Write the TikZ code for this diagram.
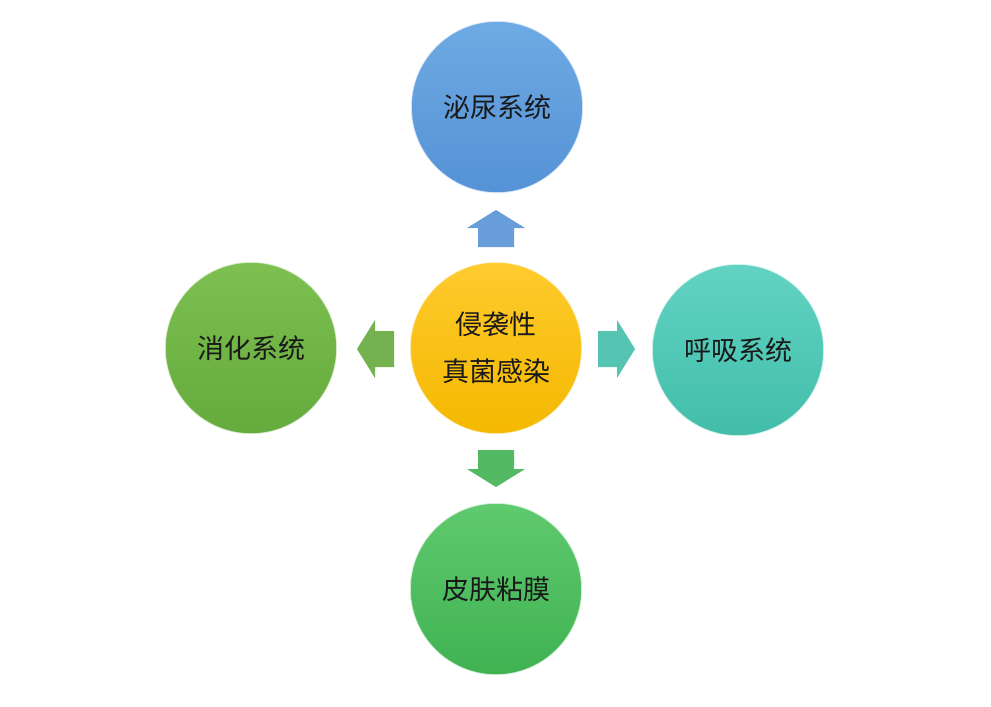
\documentclass[tikz,border=0pt]{standalone}
\usepackage{fontspec}
\newfontfamily\cjk{Noto Sans CJK SC}
\usepackage{xcolor}
\usepackage{tikz}
\definecolor{uriblue}{HTML}{5592D6}
\definecolor{uriblueL}{HTML}{6EAAE3}
\definecolor{coreyel}{HTML}{F4B800}
\definecolor{coreyelL}{HTML}{FFCB2E}
\definecolor{digest}{HTML}{64AA3C}
\definecolor{digestL}{HTML}{7EC052}
\definecolor{breath}{HTML}{42BDAA}
\definecolor{breathL}{HTML}{62D3C2}
\definecolor{skin}{HTML}{40B252}
\definecolor{skinL}{HTML}{5FCA6E}
\tikzstyle{centered} = [align=center, text centered, font=\cjk\fontsize{27}{47}\selectfont]
\tikzstyle{ball} = [centered, circle, minimum size=172pt, inner sep=0pt, draw=white, draw opacity=0.7, line width=1.5pt, text=black!90]
\newcommand{\fatarrow}[3]{%
  \fill [#3, shift={#1}, rotate=#2] (-18,18) -- (-18,-1) -- (-29,-1) -- (0,-19) -- (29,-1) -- (18,-1) -- (18,18) -- cycle;}

\begin{document}
\begin{tikzpicture}
            [x=1pt,y=-1pt]
              \useasboundingbox (0,0) rectangle (991,707);
              \node [ball, top color=coreyelL, bottom color=coreyel](core) at (496,348) {侵袭性\\真菌感染};
              \node [ball, top color=uriblueL, bottom color=uriblue](uri) at (497,107) {泌尿系统};
              \node [ball, top color=digestL, bottom color=digest](dig) at (251,348) {消化系统};
              \node [ball, top color=breathL, bottom color=breath](resp) at (738,350) {呼吸系统};
              \node [ball, top color=skinL, bottom color=skin](skin) at (496,589) {皮肤粘膜};
              % block arrows from the core outwards
              \fatarrow{(496,229)}{0}{uriblue!90!white}
              \fatarrow{(616,349)}{-90}{breath!90!white}
              \fatarrow{(496,468)}{180}{skin!90!white}
              \fatarrow{(376,349)}{90}{digest!90!white}
            \end{tikzpicture}
\end{document}
